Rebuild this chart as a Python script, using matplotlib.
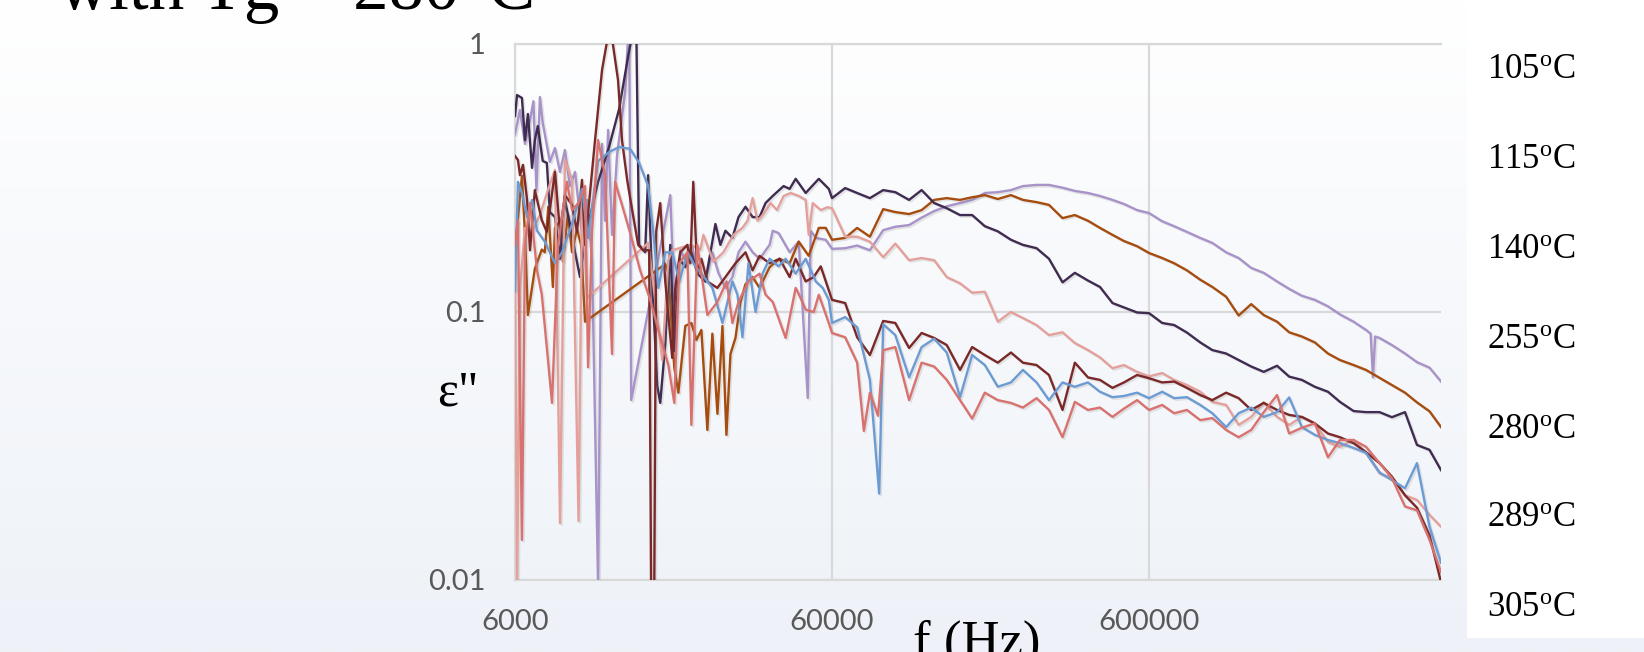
import numpy as np
import matplotlib
matplotlib.use("Agg")
import matplotlib.pyplot as plt
import matplotlib.patheffects as pe
from matplotlib.patches import Rectangle
from matplotlib.colors import LinearSegmentedColormap
from matplotlib.ticker import NullLocator

plt.rcParams['mathtext.fontset'] = 'custom'
plt.rcParams['mathtext.rm'] = 'Liberation Serif'
plt.rcParams['mathtext.it'] = 'Liberation Serif:italic'

# ---------------- data ----------------
TITLE = "with Tg ~ 280°C"
X_LABEL = "f (Hz)"
Y_LABEL = 'ε"'
X_TICKS = [6000, 60000, 600000]
X_TICK_LABELS = ["6000", "60000", "600000"]
Y_TICKS = [0.01, 0.1, 1]
Y_TICK_LABELS = ["0.01", "0.1", "1"]
LEGEND_LABELS = ["105", "115", "140", "255", "280", "289", "305"]

# shared high-frequency grid (Hz)
F_HI = [60000, 66000, 72000, 79000, 87000, 95000, 105000, 115000, 126000, 138000,
        152000, 166000, 182000, 200000, 220000, 240000, 265000, 290000, 320000, 350000,
        385000, 420000, 460000, 500000, 550000, 600000, 660000, 720000, 790000, 870000,
        950000, 1050000, 1150000, 1260000, 1380000, 1520000, 1660000, 1820000, 2000000, 2200000,
        2400000, 2650000, 2900000, 3200000, 3500000, 3850000, 4200000, 4600000, 5000000]

# lavender series
lav_f_lo = [6000, 6220, 6450, 6690, 6860, 7010, 7190, 7340, 7730, 8020,
            8320, 8620, 8940, 9280, 9760, 10130, 10500, 10970, 11290, 11540,
            11800, 12140, 12590, 13350, 13750, 13950, 18530, 19080, 19930, 20820,
            21600, 22560, 23910, 25160, 26280, 27660, 29100, 30420, 32000, 33700,
            35440, 38130, 39000, 40700, 44100, 47100, 50300, 51390, 53300, 57320]
lav_v_lo = [0.461, 0.567, 0.424, 0.520, 0.612, 0.285, 0.634, 0.507, 0.363, 0.409,
            0.333, 0.402, 0.295, 0.333, 0.194, 0.262, 0.154, 0.0095, 0.424, 0.219,
            0.478, 0.194, 0.385, 0.662, 1.28, 0.0469, 0.273, 0.111, 0.170, 0.154,
            0.178, 0.148, 0.130, 0.167, 0.140, 0.123, 0.135, 0.167, 0.183, 0.167,
            0.158, 0.178, 0.201, 0.197, 0.167, 0.183, 0.0478, 0.201, 0.189, 0.186]
lav_v_hi = [0.172, 0.173, 0.177, 0.170, 0.202, 0.208, 0.211, 0.225, 0.238, 0.248,
            0.255, 0.262, 0.278, 0.280, 0.285, 0.295, 0.298, 0.298, 0.291, 0.283,
            0.278, 0.271, 0.262, 0.253, 0.240, 0.234, 0.218, 0.209, 0.199, 0.189,
            0.181, 0.167, 0.159, 0.146, 0.140, 0.130, 0.122, 0.115, 0.111, 0.105,
            0.098, 0.092, 0.0857, 0.080, 0.0753, 0.070, 0.065, 0.062, 0.055]
lav_f_x = [3000000, 3050000, 3100000]
lav_v_x = [0.083, 0.057, 0.081]

# orange series
org_f_lo = [6000, 6310, 6450, 6590, 6930, 7290, 7450, 7640, 7900, 8020,
            8320, 8500, 8810, 9080, 9410, 9690, 9980, 17870, 18270, 19080,
            19650, 20670, 21600, 22400, 23230, 24260, 25160, 26100, 27070, 27860,
            28690, 29750, 30860, 32000, 33700, 35440, 38130, 41000, 44100, 47100,
            50650, 54500, 57320]
org_v_lo = [0.171, 0.322, 0.194, 0.0974, 0.145, 0.171, 0.167, 0.247, 0.124, 0.206,
            0.219, 0.154, 0.232, 0.167, 0.204, 0.178, 0.092, 0.151, 0.140, 0.062,
            0.050, 0.0887, 0.091, 0.0786, 0.0857, 0.0363, 0.083, 0.0417, 0.0887, 0.0348,
            0.0697, 0.080, 0.109, 0.127, 0.135, 0.123, 0.147, 0.158, 0.152, 0.183,
            0.162, 0.206, 0.206]
org_v_hi = [0.186, 0.189, 0.206, 0.191, 0.242, 0.236, 0.232, 0.240, 0.262, 0.266,
            0.262, 0.268, 0.273, 0.264, 0.273, 0.262, 0.257, 0.251, 0.224, 0.230,
            0.219, 0.206, 0.194, 0.184, 0.176, 0.166, 0.159, 0.152, 0.143, 0.132,
            0.124, 0.114, 0.097, 0.107, 0.0974, 0.092, 0.084, 0.081, 0.077, 0.070,
            0.0662, 0.0634, 0.0608, 0.0568, 0.0534, 0.0500, 0.0460, 0.0426, 0.0372]

# dark purple series
drk_f_lo = [6000, 6090, 6310, 6450, 6590, 6790, 6930, 7080, 7340, 7560,
            7730, 8020, 8320, 8620, 8940, 9280, 9620, 9980, 10970, 11880,
            12780, 13650, 14460, 14780, 15440, 15780, 16250, 16860, 17230, 17870,
            18530, 19080, 19780, 20670, 21600, 22560, 23910, 25720, 26670, 27660,
            29100, 30420, 32000, 33700, 35440, 37020, 39000, 42200, 44100, 46070,
            49550, 54500, 58600]
drk_v_lo = [0.539, 0.645, 0.629, 0.438, 0.548, 0.345, 0.438, 0.494, 0.366, 0.360,
            0.236, 0.226, 0.158, 0.262, 0.213, 0.167, 0.135, 0.189, 0.306, 0.413,
            0.572, 0.902, 1.28, 0.178, 0.167, 0.324, 0.130, 0.0530, 0.0458, 0.076,
            0.178, 0.0716, 0.158, 0.147, 0.167, 0.139, 0.130, 0.213, 0.178, 0.201,
            0.189, 0.226, 0.247, 0.226, 0.226, 0.255, 0.271, 0.295, 0.288, 0.314,
            0.278, 0.314, 0.288]
drk_v_hi = [0.266, 0.290, 0.278, 0.266, 0.285, 0.280, 0.262, 0.285, 0.255, 0.244,
            0.230, 0.230, 0.209, 0.200, 0.186, 0.178, 0.173, 0.158, 0.129, 0.140,
            0.131, 0.124, 0.108, 0.104, 0.0996, 0.099, 0.091, 0.0894, 0.0838, 0.077,
            0.0721, 0.070, 0.0662, 0.0626, 0.0598, 0.063, 0.0574, 0.0558, 0.0526, 0.0504,
            0.0462, 0.0427, 0.0423, 0.0423, 0.0405, 0.0423, 0.0319, 0.0306, 0.0257]

# light pink series
pnk_f_lo = [6000, 6090, 6220, 6450, 6790, 7190, 7620, 8020, 8320, 8620,
            9080, 9520, 9760, 10130, 15780, 16610, 17480, 18270, 18800, 21440,
            23060, 23570, 25350, 27260, 29320, 31300, 32480, 33700, 34930, 36500,
            38400, 40220, 42220, 44420, 47100, 49550, 50650, 52140, 55270, 58000]
pnk_v_lo = [0.156, 0.009, 0.121, 0.206, 0.199, 0.230, 0.285, 0.339, 0.0163, 0.369,
            0.311, 0.0166, 0.262, 0.113, 0.181, 0.111, 0.0662, 0.156, 0.170, 0.178,
            0.171, 0.194, 0.154, 0.167, 0.194, 0.206, 0.219, 0.266, 0.219, 0.232,
            0.255, 0.240, 0.271, 0.278, 0.271, 0.262, 0.194, 0.255, 0.240, 0.246]
pnk_v_hi = [0.244, 0.191, 0.191, 0.183, 0.160, 0.180, 0.156, 0.159, 0.156, 0.135,
            0.128, 0.118, 0.119, 0.092, 0.100, 0.095, 0.0894, 0.082, 0.084, 0.0766,
            0.0721, 0.0677, 0.0617, 0.0634, 0.0598, 0.0575, 0.0592, 0.0558, 0.0534, 0.0504,
            0.0462, 0.045, 0.0379, 0.0406, 0.046, 0.0406, 0.0379, 0.0406, 0.0384, 0.0327,
            0.0314, 0.0333, 0.0298, 0.0250, 0.0240, 0.0207, 0.0199, 0.0175, 0.0158]

# maroon series
mar_f_lo = [6000, 6130, 6220, 6360, 6550, 6690, 6930, 7290, 7560, 8020,
            8320, 8620, 9080, 9410, 9760, 9980, 10730, 11290, 11800, 12140,
            12680, 13050, 13550, 14050, 14680, 15220, 15900, 16130, 16490, 16730,
            17230, 17870, 18800, 19220, 19930, 20980, 21440, 21900, 22560, 23230,
            24260, 26090, 27660, 29750, 32000, 33700, 35440, 38130, 41000, 44100,
            46070, 49550, 52520, 55270]
mar_v_lo = [0.382, 0.369, 0.324, 0.354, 0.262, 0.170, 0.285, 0.220, 0.199, 0.333,
            0.199, 0.273, 0.251, 0.199, 0.311, 0.178, 0.438, 0.800, 1.08, 1.05,
            0.734, 0.438, 0.311, 0.240, 0.178, 0.170, 0.170, 0.0084, 0.0084, 0.200,
            0.255, 0.130, 0.0674, 0.123, 0.167, 0.178, 0.152, 0.306, 0.139, 0.158,
            0.130, 0.123, 0.135, 0.152, 0.167, 0.143, 0.162, 0.152, 0.158, 0.135,
            0.158, 0.130, 0.135, 0.148]
mar_v_hi = [0.111, 0.108, 0.0805, 0.0691, 0.0926, 0.091, 0.0734, 0.0835, 0.080, 0.0753,
            0.0608, 0.074, 0.0691, 0.0647, 0.0706, 0.0647, 0.0634, 0.0582, 0.0431, 0.0647,
            0.0570, 0.0558, 0.0521, 0.0546, 0.0582, 0.0566, 0.0546, 0.0550, 0.0521, 0.0490,
            0.0469, 0.0500, 0.0477, 0.0431, 0.0458, 0.0431, 0.0413, 0.0406, 0.0384, 0.0352,
            0.0341, 0.0324, 0.0300, 0.0273, 0.0243, 0.0207, 0.0186, 0.0147, 0.0098]

# blue series
blu_f_lo = [6000, 6130, 6310, 6550, 6790, 7040, 7450, 8020, 8440, 9080,
            9760, 10200, 10970, 11880, 12780, 13850, 14780, 15780, 16370, 16990,
            17870, 18800, 19790, 20980, 22230, 23230, 25160, 27070, 29100, 30190,
            31300, 32700, 34420, 36200, 38130, 40700, 42830, 46070, 49550, 53300,
            56060, 58600]
blu_v_lo = [0.120, 0.306, 0.278, 0.226, 0.262, 0.201, 0.183, 0.152, 0.167, 0.213,
            0.288, 0.189, 0.366, 0.395, 0.413, 0.406, 0.360, 0.295, 0.201, 0.123,
            0.167, 0.167, 0.130, 0.167, 0.148, 0.139, 0.123, 0.091, 0.130, 0.116,
            0.0805, 0.152, 0.100, 0.139, 0.158, 0.148, 0.158, 0.139, 0.158, 0.130,
            0.123, 0.111]
blu_v_hi = [0.091, 0.0957, 0.0877, 0.0558, 0.090, 0.082, 0.057, 0.074, 0.0794, 0.0706,
            0.0481, 0.0691, 0.0634, 0.0526, 0.0546, 0.0608, 0.0546, 0.0469, 0.0546, 0.0526,
            0.0546, 0.0504, 0.0481, 0.0486, 0.0500, 0.0477, 0.0504, 0.0477, 0.0481, 0.045,
            0.0419, 0.0372, 0.0419, 0.044, 0.0406, 0.0423, 0.048, 0.0372, 0.0348, 0.0333,
            0.0324, 0.0311, 0.0298, 0.0252, 0.0236, 0.0220, 0.0273, 0.0158, 0.0116]
blu_f_x = [84500]
blu_v_x = [0.021]

# salmon series
sal_f_lo = [6000, 6130, 6310, 6450, 6690, 7040, 7290, 7850, 8200, 8750,
            9080, 9520, 9980, 10200, 10500, 10970, 11540, 12140, 12410, 13050,
            13850, 14890, 16020, 16990, 18270, 19080, 19790, 20980, 21600, 22560,
            23230, 24260, 26090, 27900, 29100, 30420, 32700, 35440, 37020, 39000,
            42830, 46070, 46750, 49550, 52520, 54500, 58600]
sal_v_lo = [0.178, 0.220, 0.0141, 0.178, 0.255, 0.143, 0.116, 0.0458, 0.178, 0.306,
            0.240, 0.255, 0.295, 0.0622, 0.201, 0.438, 0.324, 0.0697, 0.306, 0.251,
            0.197, 0.143, 0.111, 0.0857, 0.0634, 0.0458, 0.152, 0.167, 0.0379, 0.178,
            0.139, 0.0974, 0.109, 0.130, 0.091, 0.109, 0.130, 0.139, 0.116, 0.109,
            0.080, 0.123, 0.119, 0.102, 0.100, 0.116, 0.091]
sal_v_hi = [0.0835, 0.0805, 0.0647, 0.050, 0.072, 0.074, 0.0469, 0.0647, 0.0626, 0.0558,
            0.0469, 0.040, 0.0500, 0.0469, 0.0458, 0.044, 0.0477, 0.0431, 0.0341, 0.0462,
            0.0431, 0.044, 0.0406, 0.0436, 0.0469, 0.0431, 0.045, 0.0419, 0.0431, 0.0395,
            0.0402, 0.0363, 0.0341, 0.0363, 0.0423, 0.0490, 0.0352, 0.0370, 0.0384, 0.0287,
            0.0333, 0.0333, 0.0314, 0.0273, 0.0240, 0.0188, 0.0182, 0.0141, 0.0107]
sal_f_x = [75600, 83800]
sal_v_x = [0.036, 0.041]

SERIES = [
    ("lav", "#A793C8", lav_f_lo, lav_v_lo, lav_v_hi, lav_f_x, lav_v_x),
    ("org", "#A64C0E", org_f_lo, org_v_lo, org_v_hi, [], []),
    ("drk", "#3F2C50", drk_f_lo, drk_v_lo, drk_v_hi, [], []),
    ("pnk", "#E4A09B", pnk_f_lo, pnk_v_lo, pnk_v_hi, [], []),
    ("mar", "#7A2828", mar_f_lo, mar_v_lo, mar_v_hi, [], []),
    ("blu", "#6C9BD3", blu_f_lo, blu_v_lo, blu_v_hi, blu_f_x, blu_v_x),
    ("sal", "#D9726F", sal_f_lo, sal_v_lo, sal_v_hi, sal_f_x, sal_v_x),
]

# ---------------- figure ----------------
W, H = 1644, 652
fig = plt.figure(figsize=(W / 100, H / 100), dpi=100)

bg = fig.add_axes([0, 0, 1, 1], zorder=-10)
grad = np.linspace(0, 1, 256)[:, None]
cmap = LinearSegmentedColormap.from_list("bg", ["#FFFFFF", "#F6F8FB", "#EEF2F8"])
bg.imshow(grad, aspect="auto", cmap=cmap, extent=[0, 1, 0, 1], origin="upper")
bg.set_xlim(0, 1)
bg.set_ylim(0, 1)
bg.axis("off")

# white legend panel on the right
fig.patches.append(Rectangle((1467 / W, (H - 638) / H), 1 - 1467 / W, 638 / H,
                             transform=fig.transFigure, facecolor="white",
                             edgecolor="none", zorder=-5))

ax = fig.add_axes([515 / W, (H - 580) / H, (1441 - 515) / W, (580 - 44) / H])
ax.patch.set_alpha(0)
ax.set_xscale("log")
ax.set_yscale("log")
ax.set_xlim(6000, 5.0e6)
ax.set_ylim(0.01, 1)

grid_c = "#D9D9D9"
for s in ["left", "bottom", "top"]:
    ax.spines[s].set_color(grid_c)
    ax.spines[s].set_linewidth(1.6)
ax.spines["right"].set_visible(False)

ax.set_xticks(X_TICKS)
ax.set_xticklabels(X_TICK_LABELS)
ax.set_yticks(Y_TICKS)
ax.set_yticklabels(Y_TICK_LABELS)
ax.xaxis.set_minor_locator(NullLocator())
ax.yaxis.set_minor_locator(NullLocator())
ax.tick_params(axis="both", length=0, labelsize=21, labelcolor="#595959")
ax.tick_params(axis="x", pad=21)
ax.tick_params(axis="y", pad=21)
for lab in ax.get_xticklabels() + ax.get_yticklabels():
    lab.set_family("Lato")
ax.grid(True, which="major", color=grid_c, lw=1.6, zorder=0)

shadow = [pe.SimpleLineShadow(offset=(1.2, -1.2), shadow_color="#7f7f7f", alpha=0.18),
          pe.Normal()]
for name, col, f_lo, v_lo, v_hi, f_x, v_x in SERIES:
    f = np.array(f_lo + F_HI + f_x, dtype=float)
    v = np.array(v_lo + v_hi + v_x, dtype=float)
    order = np.argsort(f)
    ax.plot(f[order], v[order], color=col, lw=1.7, solid_joinstyle="round",
            path_effects=shadow, zorder=3)

# texts
fig.text(58 / W, 1 - 9.5 / H, TITLE, fontsize=51, family="Liberation Serif",
         ha="left", va="baseline", color="black")
fig.text(437 / W, 1 - 405 / H, Y_LABEL, fontsize=36, family="Liberation Serif",
         ha="left", va="baseline", color="black")
fig.text(913 / W, 1 - 657 / H, X_LABEL, fontsize=38, family="Liberation Serif",
         ha="left", va="baseline", color="black")

leg_y = [70, 160, 249, 339, 429, 518, 608]
for lab, yc in zip(LEGEND_LABELS, leg_y):
    fig.text(1487 / W, 1 - yc / H, lab + r"$^{\mathrm{o}}$C", fontsize=25,
             family="Liberation Serif", ha="left", va="center", color="black")

fig.savefig("out.png", dpi=100)
